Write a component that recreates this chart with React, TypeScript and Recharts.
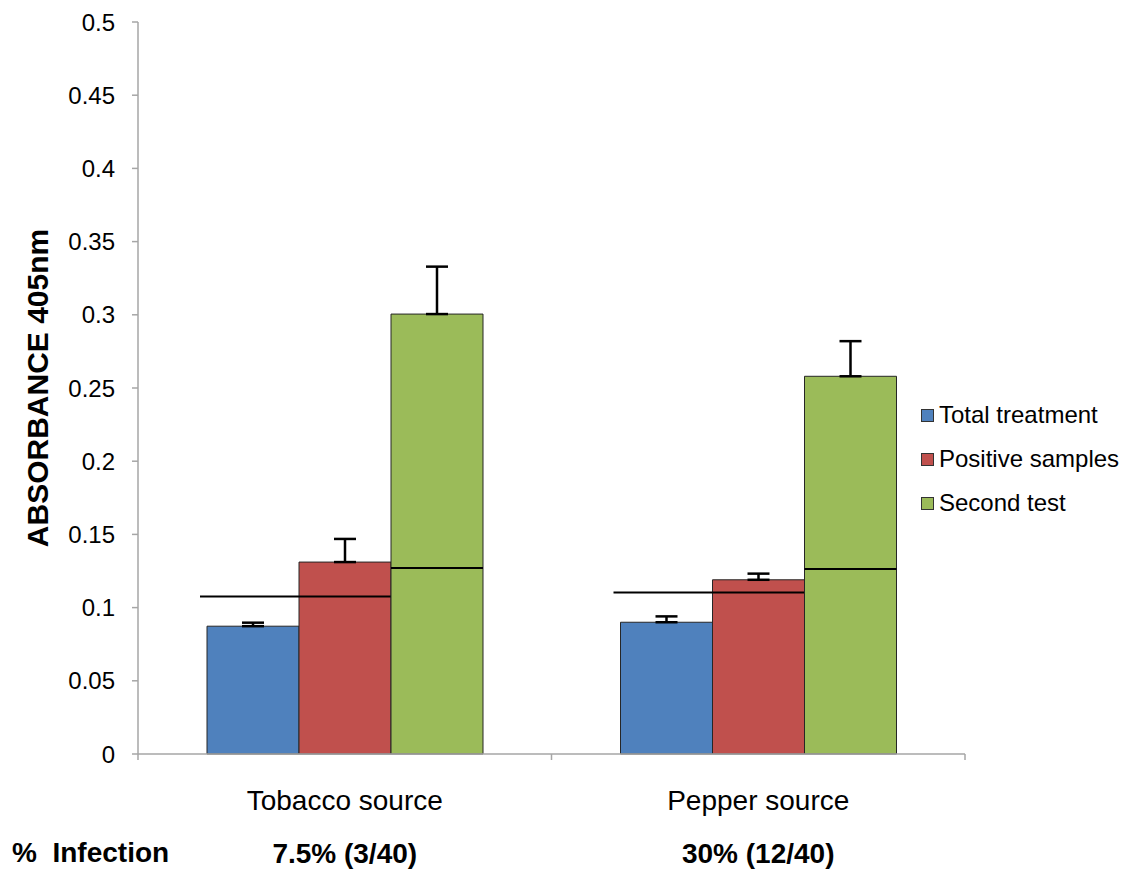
import React from 'react'
import { BarChart, Bar, XAxis, YAxis, ErrorBar, Legend, Rectangle } from 'recharts'

const categories = ['Tobacco source', 'Pepper source']
const infection = ['7.5% (3/40)', '30% (12/40)']
const seriesNames = ['Total treatment', 'Positive samples', 'Second test']

const totalTreatment = [0.0873, 0.09]
const totalErr = [0.0024, 0.004]
const positiveSamples = [0.1311, 0.119]
const positiveErr = [0.0158, 0.0042]
const secondTest = [0.3005, 0.258]
const secondErr = [0.0324, 0.024]

// cut-off lines drawn over the bars
const cutoffLow = [0.1076, 0.1103]
const cutoffHigh = [0.127, 0.1264]

const yTicks = [0, 0.05, 0.1, 0.15, 0.2, 0.25, 0.3, 0.35, 0.4, 0.45, 0.5]

const data = categories.map((name, i) => ({
  name,
  total: totalTreatment[i],
  totalErr: [0, totalErr[i]],
  positive: positiveSamples[i],
  positiveErr: [0, positiveErr[i]],
  second: secondTest[i],
  secondErr: [0, secondErr[i]],
  cutLow: cutoffLow[i],
  cutHigh: cutoffHigh[i],
}))

const FONT = 'Liberation Sans, Arial, sans-serif'
const W = 1117
const H = 863
const margin = { top: 14, right: 160, bottom: 17, left: 0 }
const yAxisWidth = 130
const band = (W - margin.left - margin.right - yAxisWidth) / categories.length

// y pixel for a value, from the bar's own geometry (baseline at y + height)
function valueY(props: any, v: number, key: string) {
  const { y, height, payload } = props
  const val = payload[key]
  return y + height - (v / val) * height
}

function PositiveShape(props: any) {
  const { x, width, payload } = props
  const ly = valueY(props, payload.cutLow, 'positive')
  return (
    <g>
      <Rectangle {...props} />
      <line x1={x - width - 7} x2={x + width} y1={ly} y2={ly} stroke='#000' strokeWidth={2} />
    </g>
  )
}

function SecondShape(props: any) {
  const { x, width, payload } = props
  const ly = valueY(props, payload.cutHigh, 'second')
  return (
    <g>
      <Rectangle {...props} />
      <line x1={x} x2={x + width} y1={ly} y2={ly} stroke='#000' strokeWidth={2} />
    </g>
  )
}

function CategoryTick(props: any) {
  const { x, y, payload, index } = props
  const half = band / 2
  return (
    <g>
      <line x1={x - half} x2={x - half} y1={y} y2={y + 6} stroke='#a6a6a6' strokeWidth={1.5} />
      {index === categories.length - 1 && (
        <line x1={x + half} x2={x + half} y1={y} y2={y + 6} stroke='#a6a6a6' strokeWidth={1.5} />
      )}
      <text x={x} y={y + 46} textAnchor='middle' dominantBaseline='central' fontSize={28} fill='#000' fontFamily={FONT}>
        {payload.value}
      </text>
      <text x={x} y={y + 99} textAnchor='middle' dominantBaseline='central' fontSize={28} fontWeight='bold' fill='#000' fontFamily={FONT}>
        {infection[index]}
      </text>
    </g>
  )
}

function LegendContent(props: any) {
  const payload = [...(props.payload || [])].sort(
    (a: any, b: any) => seriesNames.indexOf(a.value) - seriesNames.indexOf(b.value)
  )
  return (
    <div style={{ fontFamily: FONT, fontSize: 24, color: '#000' }}>
      {payload.map((entry: any) => (
        <div key={entry.value} style={{ display: 'flex', alignItems: 'center', height: 44 }}>
          <span
            style={{
              width: 11,
              height: 11,
              background: entry.color,
              border: '1px solid #333',
              marginRight: 5,
              display: 'inline-block',
            }}
          />
          <span>{entry.value}</span>
        </div>
      ))}
    </div>
  )
}

export default function App() {
  return (
    <div style={{ position: 'relative', width: W, height: H }}>
      <BarChart width={W} height={H} data={data} margin={margin} barGap={0} barSize={92}>
        <XAxis
          dataKey='name'
          height={100}
          tickLine={false}
          tickSize={0}
          tickMargin={0}
          axisLine={{ stroke: '#a6a6a6', strokeWidth: 1.5 }}
          tick={<CategoryTick />}
          interval={0}
        />
        <YAxis
          width={yAxisWidth}
          domain={[0, 0.5]}
          ticks={yTicks}
          interval={0}
          tickSize={6}
          tickMargin={17}
          axisLine={{ stroke: '#a6a6a6', strokeWidth: 1.5 }}
          tickLine={{ stroke: '#a6a6a6', strokeWidth: 1.5 }}
          tick={{ fill: '#000', fontSize: 24, fontFamily: FONT }}
          label={{
            value: 'ABSORBANCE 405nm',
            angle: -90,
            position: 'insideLeft',
            offset: 29,
            style: { textAnchor: 'middle', fontWeight: 'bold', fontSize: 30, fill: '#000', fontFamily: FONT },
          }}
        />
        <Legend
          layout='vertical'
          align='center'
          verticalAlign='middle'
          wrapperStyle={{ left: 913, top: 385, width: 220 }}
          content={<LegendContent />}
        />
        <Bar dataKey='total' name='Total treatment' fill='#4f81bd' stroke='#262626' strokeWidth={1} isAnimationActive={false}>
          <ErrorBar dataKey='totalErr' width={11} stroke='#000' strokeWidth={2.5} />
        </Bar>
        <Bar
          dataKey='positive'
          name='Positive samples'
          fill='#c0504d'
          stroke='#262626'
          strokeWidth={1}
          shape={<PositiveShape />}
          isAnimationActive={false}
        >
          <ErrorBar dataKey='positiveErr' width={11} stroke='#000' strokeWidth={2.5} />
        </Bar>
        <Bar
          dataKey='second'
          name='Second test'
          fill='#9bbb59'
          stroke='#262626'
          strokeWidth={1}
          shape={<SecondShape />}
          isAnimationActive={false}
        >
          <ErrorBar dataKey='secondErr' width={11} stroke='#000' strokeWidth={2.5} />
        </Bar>
      </BarChart>
      <div
        style={{
          position: 'absolute',
          left: 4,
          top: 828,
          fontFamily: FONT,
          fontSize: 28,
          fontWeight: 'bold',
          whiteSpace: 'pre',
          lineHeight: '34px',
        }}
      >
        {'%  Infection'}
      </div>
    </div>
  )
}
